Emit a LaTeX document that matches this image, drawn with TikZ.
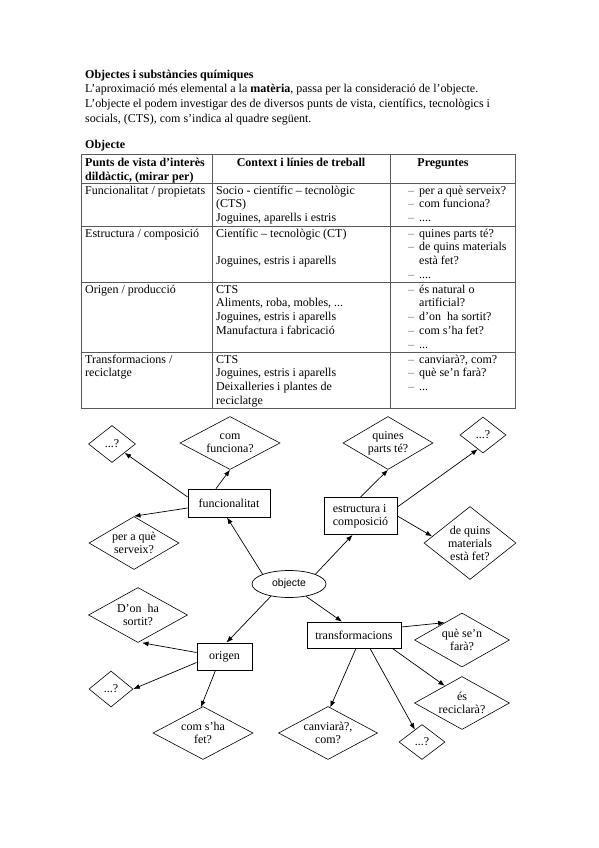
\documentclass[tikz,border=0pt]{standalone}
\usepackage{fontspec}
\setmainfont{Liberation Serif}
\newfontfamily\objfont{Liberation Sans}
\usetikzlibrary{shapes.geometric,arrows.meta}
\newcounter{lnc}
\newcommand\Ln[3]{\stepcounter{lnc}\node[txt] (ln\thelnc) at (#1,#2) {#3};}
\newcommand\Dq[2]{\stepcounter{lnc}\node[txt,text=black!55] (dash\thelnc) at (408,#1) {–};\node[txt] (q\thelnc) at (419,#1) {#2};}
\begin{document}
\begin{tikzpicture}[x=1pt,y=-1pt,
  every node/.style={font=\fontsize{12}{13}\selectfont},
  txt/.style={anchor=base west,inner sep=0pt},
  ctxt/.style={anchor=base,inner sep=0pt},
  grid/.style={draw=black!65,line width=0.9pt},
  diam/.style={shape=diamond,draw,line width=0.6pt,inner sep=-6pt,align=center},
  boxn/.style={draw,line width=0.8pt,inner sep=0pt},
  arr/.style={-{Latex[length=6.5pt,width=5pt]},line width=0.7pt}]
\useasboundingbox (0,0) rectangle (599,848);
\fill[white] (0,0) rectangle (599,848);
% header text
\node[txt] (title) at (85,79) {\textbf{Objectes i substàncies químiques}};
\node[txt] (p1) at (85,93) {L’aproximació més elemental a la \textbf{matèria}, passa per la consideració de l’objecte.};
\node[txt] (p2) at (85,107.5) {L’objecte el podem investigar des de diversos punts de vista, científics, tecnològics i};
\node[txt] (p3) at (85,122) {socials, (CTS), com s’indica al quadre següent.};
\node[txt] (obtitle) at (85,149) {\textbf{Objecte}};
% table grid
\draw[grid] (81,154) rectangle (515,408);
\foreach \yy in {183,226,282,352} \draw[grid] (81,\yy) -- (515,\yy);
\draw[grid] (212,154) -- (212,408);
\draw[grid] (390,154) -- (390,408);
% table header
\Ln{85}{166}{\textbf{Punts de vista d’interès}}
\Ln{85}{180}{\textbf{dildàctic, (mirar per)}}
\node[ctxt] (hctx) at (301,166) {\textbf{Context i línies de treball}};
\node[ctxt] (hpreg) at (443,166) {\textbf{Preguntes}};
% row 1
\Ln{85}{194}{Funcionalitat / propietats}
\Ln{216}{194}{Socio - científic – tecnològic}
\Ln{216}{207.8}{(CTS)}
\Ln{216}{221.6}{Joguines, aparells i estris}
\Dq{194}{per a què serveix?}
\Dq{207.8}{com funciona?}
\Dq{221.6}{....}
% row 2
\Ln{85}{237}{Estructura / composició}
\Ln{216}{237}{Científic – tecnològic (CT)}
\Ln{216}{264.6}{Joguines, estris i aparells}
\Dq{237}{quines parts té?}
\Dq{250.8}{de quins materials}
\Ln{419}{264.6}{està fet?}
\Dq{278.4}{....}
% row 3
\Ln{85}{293}{Origen / producció}
\Ln{216}{293}{CTS}
\Ln{216}{306.8}{Aliments, roba, mobles, ...}
\Ln{216}{320.6}{Joguines, estris i aparells}
\Ln{216}{334.4}{Manufactura i fabricació}
\Dq{293}{és natural o}
\Ln{419}{306.8}{artificial?}
\Dq{320.6}{d’on\ \ ha sortit?}
\Dq{334.4}{com s’ha fet?}
\Dq{348.2}{...}
% row 4
\Ln{85}{363}{Transformacions /}
\Ln{85}{376.8}{reciclatge}
\Ln{216}{363}{CTS}
\Ln{216}{376.8}{Joguines, estris i aparells}
\Ln{216}{390.6}{Deixalleries i plantes de}
\Ln{216}{404.4}{reciclatge}
\Dq{363}{canviarà?, com?}
\Dq{376.8}{què se’n farà?}
\Dq{390.6}{...}
% diagram nodes
\node[ellipse,draw,line width=0.7pt,inner sep=0pt,minimum width=74pt,minimum height=27pt,font=\objfont\fontsize{10.5}{12}\selectfont] (obj) at (289,584) {objecte};
\node[boxn,minimum width=82pt,minimum height=28pt] (func) at (229,503) {funcionalitat};
\node[boxn,minimum width=73pt,minimum height=37pt,align=left] (estr) at (360.5,516) {estructura i\\composició};
\node[boxn,minimum width=55pt,minimum height=27pt] (orig) at (224.5,656.5) {origen};
\node[boxn,minimum width=94pt,minimum height=26pt] (trans) at (354,635) {transformacions};
\node[diam,minimum width=47pt,minimum height=37pt] (d1) at (112,444) {...?};
\node[diam,minimum width=100pt,minimum height=53pt] (comf) at (230,443) {com\\funciona?};
\node[diam,minimum width=90pt,minimum height=53pt] (pq) at (134,543) {per a què\\serveix?};
\node[diam,minimum width=90pt,minimum height=53pt] (quin) at (388,443) {quines\\parts té?};
\node[diam,minimum width=46pt,minimum height=36pt] (d2) at (483,435) {...?};
\node[diam,minimum width=92pt,minimum height=73pt] (dq) at (470,543) {de quins\\materials\\està fet?};
\node[diam,minimum width=99pt,minimum height=55pt] (don) at (138,615) {D’on\ \ ha\\sortit?};
\node[diam,minimum width=44pt,minimum height=36pt] (d3) at (111,689) {...?};
\node[diam,minimum width=100pt,minimum height=53pt] (comsha) at (203,733) {com s’ha\\fet?};
\node[diam,minimum width=95pt,minimum height=54pt] (que) at (462,640) {què se’n\\farà?};
\node[diam,minimum width=95pt,minimum height=53pt] (es) at (462,703) {és\\reciclarà?};
\node[diam,minimum width=99pt,minimum height=53pt] (canv) at (328,733) {canviarà?,\\com?};
\node[diam,minimum width=46pt,minimum height=35pt] (d4) at (422,742) {...?};
% connectors
\draw[arr] (obj.north west) -- ([xshift=-2pt]func.south);
\draw[arr] (obj.north east) -- ([xshift=-8pt]estr.south);
\draw[arr] (obj.214) -- ([xshift=2pt]orig.north);
\draw[arr] (obj.324) -- ([xshift=-12pt]trans.north);
\draw[arr] ([yshift=6pt]func.west) -- (d1.325);
\draw[arr] ([xshift=-13pt]func.north) -- (comf.south);
\draw[arr] ([yshift=-5pt]func.west) -- (pq.north);
\draw[arr] (estr.north) -- (quin.south);
\draw[arr] ([yshift=9pt]estr.east) -- (d2.250);
\draw[arr] (estr.east) -- (dq.170);
\draw[arr] ([yshift=4pt]orig.west) -- ([xshift=4pt]don.south);
\draw[arr] ([yshift=-6pt]orig.west) -- (d3.east);
\draw[arr] ([xshift=-9pt]orig.south) -- (comsha.95);
\draw[arr] ([yshift=8pt]trans.east) -- (que.135);
\draw[arr] ([xshift=-9pt]trans.south east) -- (es.135);
\draw[arr] ([xshift=2pt]trans.south) -- (canv.85);
\draw[arr] ([xshift=16pt]trans.south) -- (d4.120);
\end{tikzpicture}
\end{document}
